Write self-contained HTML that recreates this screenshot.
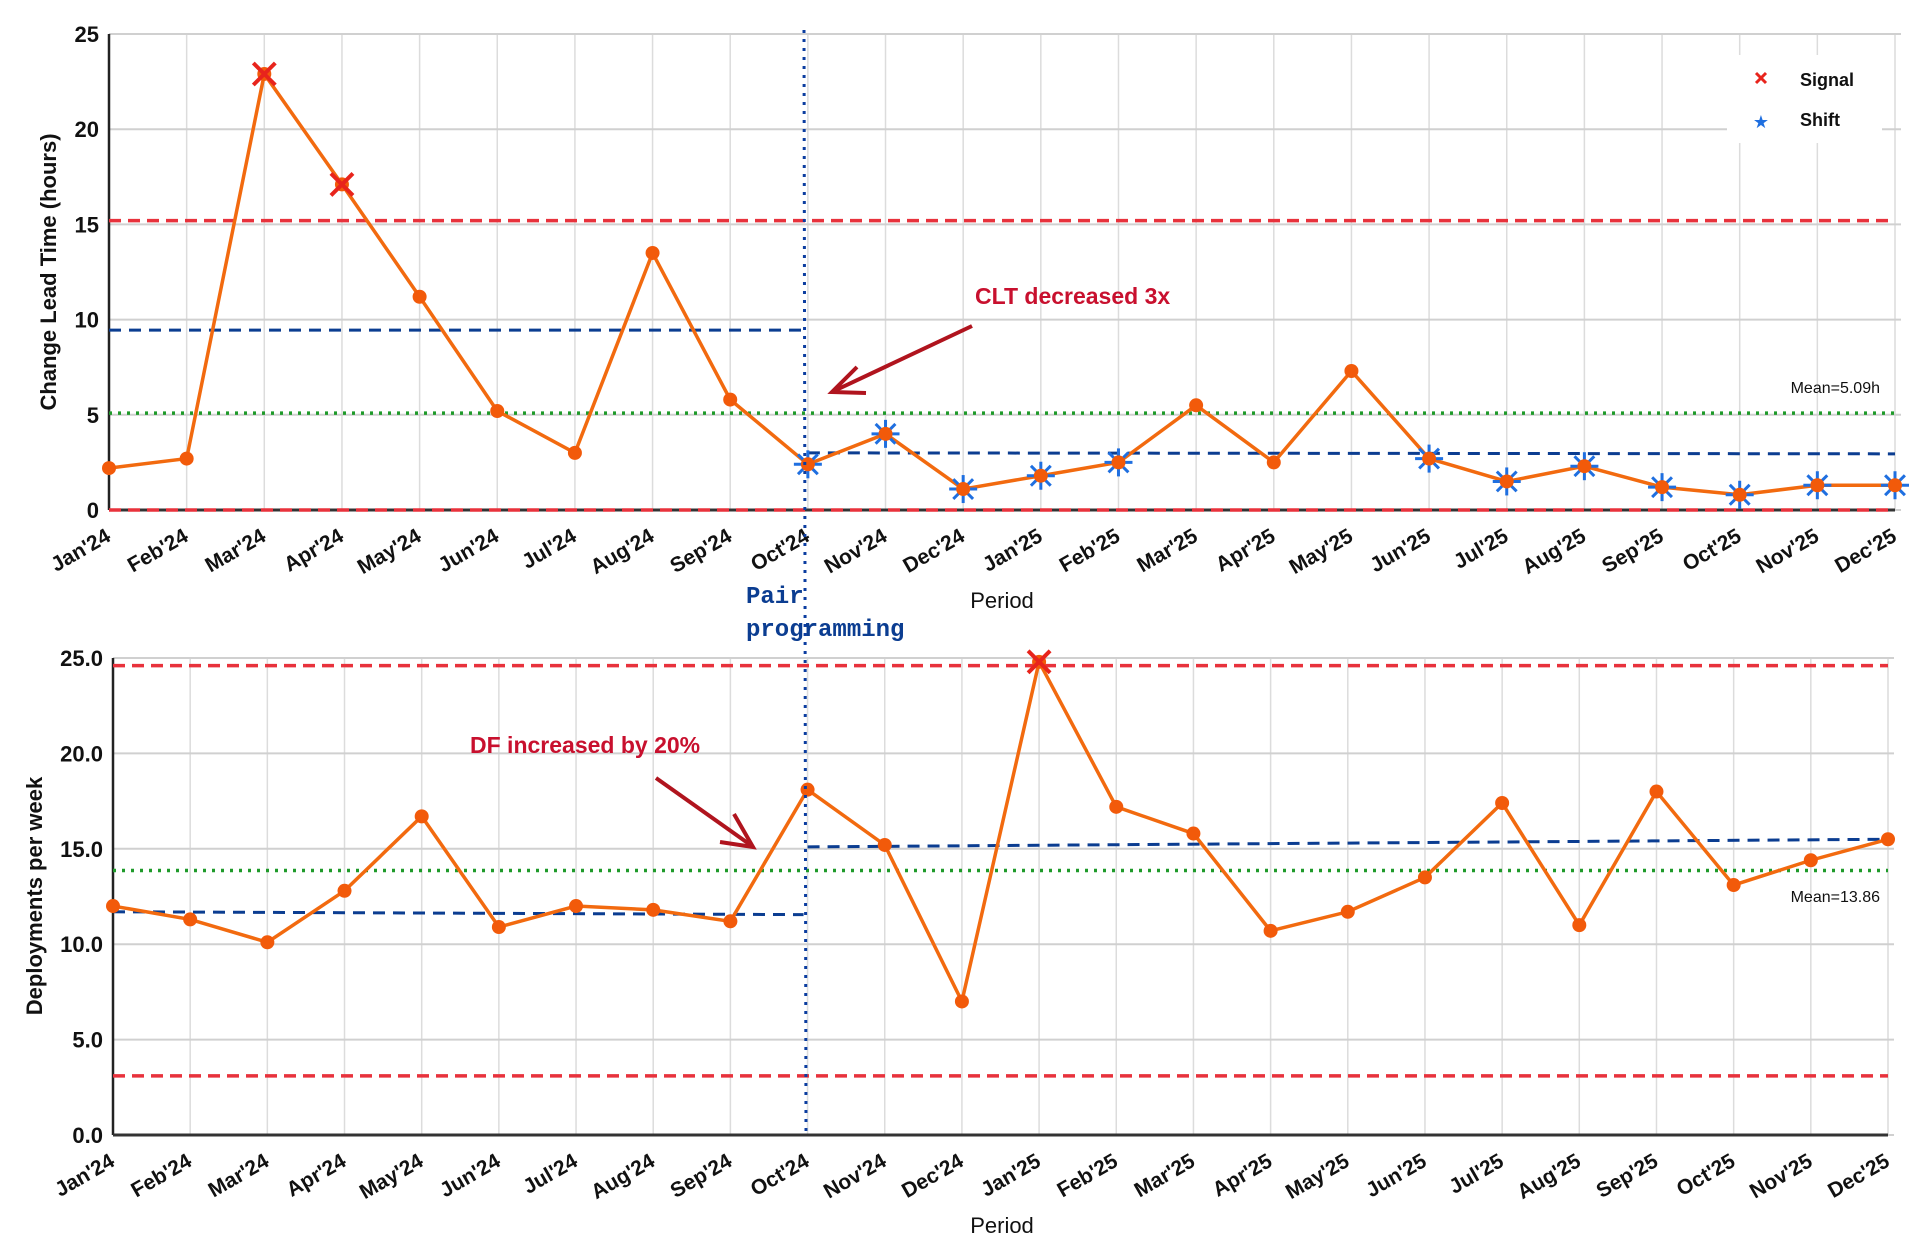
<!DOCTYPE html>
<html><head><meta charset="utf-8"><style>
html,body{margin:0;padding:0;background:#fff;}
svg{display:block;font-family:"Liberation Sans",sans-serif;}
</style></head><body>
<svg id="chart" width="1920" height="1250" viewBox="0 0 1920 1250" xmlns="http://www.w3.org/2000/svg"></svg>
<script>
const months = ["Jan'24","Feb'24","Mar'24","Apr'24","May'24","Jun'24","Jul'24","Aug'24","Sep'24","Oct'24","Nov'24","Dec'24","Jan'25","Feb'25","Mar'25","Apr'25","May'25","Jun'25","Jul'25","Aug'25","Sep'25","Oct'25","Nov'25","Dec'25"];
const cltValues = [2.2,2.7,22.9,17.1,11.2,5.2,3.0,13.5,5.8,2.4,4.0,1.1,1.8,2.5,5.5,2.5,7.3,2.7,1.5,2.3,1.2,0.8,1.3,1.3];
const cltSignals = [2,3];
const cltShifts = [9,10,11,12,13,17,18,19,20,21,22,23];
const cltTicks = [0,5,10,15,20,25];
const cltTickLabels = ["0","5","10","15","20","25"];
const cltUcl = 15.2, cltLcl = 0, cltMean = 5.09;
const cltShiftPre = [9.45,9.45];
const cltShiftPost = [3.0,2.95];
const dfValues = [12.0,11.3,10.1,12.8,16.7,10.9,12.0,11.8,11.2,18.1,15.2,7.0,24.8,17.2,15.8,10.7,11.7,13.5,17.4,11.0,18.0,13.1,14.4,15.5];
const dfSignals = [12];
const dfTicks = [0,5,10,15,20,25];
const dfTickLabels = ["0.0","5.0","10.0","15.0","20.0","25.0"];
const dfUcl = 24.6, dfLcl = 3.1, dfMean = 13.86;
const dfShiftPre = [11.7,11.55];
const dfShiftPost = [15.1,15.5];
const interventionIndex = 9;

const svg = document.getElementById('chart');
const NS = 'http://www.w3.org/2000/svg';
function mk(tag, attrs, parent){const e=document.createElementNS(NS,tag);for(const k in attrs)e.setAttribute(k,attrs[k]);(parent||svg).appendChild(e);return e;}

function drawChart(cfg){
  const g = mk('g',{});
  
  
  const xs = i => cfg.x0 + i*(cfg.x1-cfg.x0)/(months.length-1);
  const ys = v => cfg.y0 - v*(cfg.y0-cfg.yTop)/25;
  months.forEach((m,i)=>{const l=mk('line',{x1:xs(i),x2:xs(i),y1:cfg.yTop,y2:cfg.y0,stroke:'#dcdcdc','stroke-width':1.5},g);
    });
  cfg.ticks.forEach((t,i)=>{const l=mk('line',{x1:cfg.x0,x2:cfg.x1+6,y1:ys(t),y2:ys(t),stroke:'#d0d0d0','stroke-width':2},g);
    
    const tx=mk('text',{x:cfg.x0-10,y:ys(t)+8,'text-anchor':'end','font-size':22,'font-weight':'bold',fill:'#111'},g);tx.textContent=cfg.tickLabels[i];
    });
  let a=mk('line',{x1:cfg.x0,x2:cfg.x0,y1:cfg.yTop,y2:cfg.y0,stroke:'#222','stroke-width':2.5},g);
  
  a=mk('line',{x1:cfg.x0,x2:cfg.x1,y1:cfg.y0,y2:cfg.y0,stroke:'#333','stroke-width':3},g);
  
  let l=mk('line',{x1:cfg.x0,x2:cfg.x1,y1:ys(cfg.ucl),y2:ys(cfg.ucl),stroke:'#e8323c','stroke-width':3.5,'stroke-dasharray':'12,7'},g);
  
  l=mk('line',{x1:cfg.x0,x2:cfg.x1,y1:ys(cfg.lcl),y2:ys(cfg.lcl),stroke:'#e8323c','stroke-width':3.5,'stroke-dasharray':'12,7'},g);
  
  l=mk('line',{x1:cfg.x0,x2:cfg.x1,y1:ys(cfg.mean),y2:ys(cfg.mean),stroke:'#1f9a2a','stroke-width':3.5,'stroke-dasharray':'3,6'},g);
  
  l=mk('line',{x1:cfg.x0,x2:xs(interventionIndex)-4,y1:ys(cfg.pre[0]),y2:ys(cfg.pre[1]),stroke:'#0b3d91','stroke-width':3,'stroke-dasharray':'12,8'},g);
  
  l=mk('line',{x1:xs(interventionIndex),x2:cfg.x1,y1:ys(cfg.post[0]),y2:ys(cfg.post[1]),stroke:'#0b3d91','stroke-width':3,'stroke-dasharray':'12,8'},g);
  
  const p=mk('polyline',{points:cfg.values.map((v,i)=>xs(i)+','+ys(v)).join(' '),fill:'none',stroke:'#f26a0f','stroke-width':3.5},g);
  
  cfg.values.forEach((v,i)=>{
    if(cfg.shifts && cfg.shifts.includes(i)){
      const s=mk('g',{transform:`translate(${xs(i)},${ys(v)})`},g);
      
      for(let k=0;k<4;k++){mk('line',{x1:0,y1:-14,x2:0,y2:14,stroke:'#1f6fe0','stroke-width':3,transform:`rotate(${k*45})`},s);}
    }
    const c=mk('circle',{cx:xs(i),cy:ys(v),r:7,fill:'#f25a0a'},g);
    
    if(cfg.signals.includes(i)){
      const s=mk('g',{transform:`translate(${xs(i)},${ys(v)})`},g);
      
      mk('line',{x1:-11,y1:-11,x2:11,y2:11,stroke:'#e8241c','stroke-width':4},s);
      mk('line',{x1:-11,y1:11,x2:11,y2:-11,stroke:'#e8241c','stroke-width':4},s);
    }
    const t=mk('text',{x:xs(i)+3,y:cfg.y0+30,'text-anchor':'end','font-size':21,'font-weight':'bold',fill:'#111',transform:`rotate(-30 ${xs(i)+3} ${cfg.y0+30})`},g);
    t.textContent=months[i];
    
  });
  const xt=mk('text',{x:1002,y:cfg.periodY,'text-anchor':'middle','font-size':22,fill:'#111'},g);xt.textContent='Period';
  
  const yt=mk('text',{x:cfg.ylx,y:cfg.yly,'text-anchor':'middle','font-size':22,'font-weight':'bold',fill:'#111',transform:`rotate(-90 ${cfg.ylx} ${cfg.yly})`},g);yt.textContent=cfg.ylabel;
  
  const mt=mk('text',{x:1880,y:cfg.meanLabelY,'text-anchor':'end','font-size':16,fill:'#111'},g);mt.textContent=cfg.meanLabel;
  
  return {xs,ys};
}

drawChart({name:'clt-chart',x0:109,x1:1895,y0:510,yTop:34,values:cltValues,signals:cltSignals,shifts:cltShifts,ticks:cltTicks,tickLabels:cltTickLabels,ucl:cltUcl,lcl:cltLcl,mean:cltMean,pre:cltShiftPre,post:cltShiftPost,periodY:608,ylabel:'Change Lead Time (hours)',ylx:56,yly:272,meanLabel:'Mean=5.09h',meanLabelY:393});
drawChart({name:'df-chart',x0:113,x1:1888,y0:1135,yTop:658,values:dfValues,signals:dfSignals,shifts:null,ticks:dfTicks,tickLabels:dfTickLabels,ucl:dfUcl,lcl:dfLcl,mean:dfMean,pre:dfShiftPre,post:dfShiftPost,periodY:1233,ylabel:'Deployments per week',ylx:42,yly:896,meanLabel:'Mean=13.86',meanLabelY:902});

let v=mk('line',{x1:804,x2:806,y1:30,y2:1132,stroke:'#0b3da0','stroke-width':3,'stroke-dasharray':'3,6'});

let t=mk('text',{x:746,y:603,'font-family':'Liberation Mono, monospace','font-size':24,'font-weight':'bold',fill:'#0b3d91'});t.textContent='Pair';

t=mk('text',{x:746,y:636,'font-family':'Liberation Mono, monospace','font-size':24,'font-weight':'bold',fill:'#0b3d91'});t.textContent='programming';


t=mk('text',{x:975,y:304,'font-size':23,'font-weight':'bold',fill:'#c8102e'});t.textContent='CLT decreased 3x';

let ar=mk('g',{});
mk('line',{x1:972,y1:326,x2:834,y2:391,stroke:'#b0141e','stroke-width':4},ar);
mk('polyline',{points:'857,367 832,392 866,393',fill:'none',stroke:'#b0141e','stroke-width':4},ar);
t=mk('text',{x:470,y:753,'font-size':23,'font-weight':'bold',fill:'#c8102e'});t.textContent='DF increased by 20%';

ar=mk('g',{});
mk('line',{x1:656,y1:778,x2:752,y2:846,stroke:'#b0141e','stroke-width':4},ar);
mk('polyline',{points:'734,814 753,847 720,842',fill:'none',stroke:'#b0141e','stroke-width':4},ar);

const lg=mk('g',{});
mk('rect',{x:1727,y:55,width:155,height:88,fill:'#fff'},lg);
let e=mk('g',{},lg);
mk('line',{x1:1756,y1:73,x2:1766,y2:83,stroke:'#e8241c','stroke-width':3},e);
mk('line',{x1:1756,y1:83,x2:1766,y2:73,stroke:'#e8241c','stroke-width':3},e);
let lt=mk('text',{x:1800,y:86,'font-size':18,'font-weight':'bold',fill:'#111'},e);lt.textContent='Signal';
e=mk('g',{},lg);
mk('text',{x:1761,y:128,'text-anchor':'middle','font-size':18,fill:'#1f6fe0'},e).textContent='★';
lt=mk('text',{x:1800,y:126,'font-size':18,'font-weight':'bold',fill:'#111'},e);lt.textContent='Shift';
</script>
</body></html>
